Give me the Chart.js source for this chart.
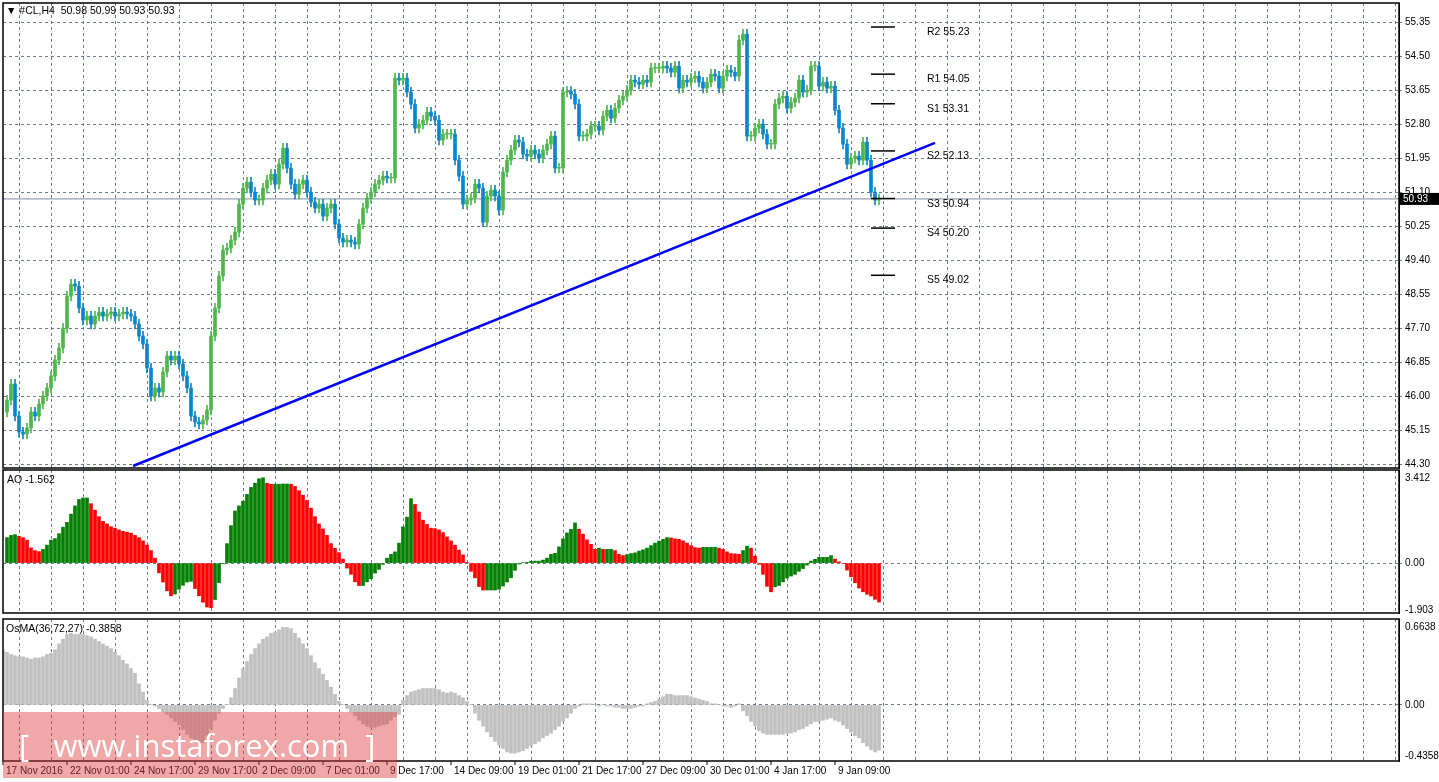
<!DOCTYPE html>
<html><head><meta charset="utf-8">
<script src="https://cdn.jsdelivr.net/npm/chart.js@4.4.1/dist/chart.umd.min.js"></script>
<style>
body{margin:0;background:#fff;width:1439px;height:782px;overflow:hidden;position:relative;font-family:"Liberation Sans",sans-serif}
canvas{position:absolute;left:0}
.t{position:absolute;font-size:10.5px;color:#000;white-space:pre}
#wm{position:absolute;left:3px;top:712px;width:394px;height:66px;background:rgba(220,60,60,0.45);color:#fff;font-size:31px;line-height:66px;white-space:pre;overflow:hidden;font-family:"Open Sans",sans-serif}
</style></head><body>
<div id="holder"></div>
<div class="t" style="left:6px;top:4px">▼ #CL,H4  50.98 50.99 50.93 50.93</div>
<div class="t" style="left:7px;top:473px">AO -1.562</div>
<div class="t" style="left:6px;top:622px">OsMA(36,72,27) -0.3858</div>
<div id="wm">  [   www.instaforex.com  ]</div>
<script>
const closes=[45.9,46.3,45.5,45.1,45.05,45.2,45.6,45.5,45.8,46.0,46.2,46.5,46.9,47.2,47.7,48.5,48.8,48.75,48.2,47.9,48.0,47.8,48.0,48.1,48.0,48.05,48.1,48.0,48.05,48.1,48.05,48.0,47.8,47.5,47.3,46.7,46.0,46.2,46.1,46.6,47.0,46.9,47.0,46.8,46.5,46.2,45.5,45.35,45.3,45.4,45.65,47.5,48.2,49.0,49.65,49.7,49.9,50.1,50.8,51.2,51.35,51.1,50.9,50.9,51.2,51.4,51.55,51.3,51.8,52.2,51.7,51.3,51.05,51.3,51.4,51.1,50.85,50.7,50.8,50.5,50.7,50.8,50.3,49.95,49.85,49.9,49.85,49.8,50.3,50.7,50.95,51.1,51.3,51.4,51.5,51.45,51.45,53.95,53.9,53.95,53.6,53.3,52.7,52.8,52.9,53.1,53.0,52.9,52.4,52.55,52.55,52.55,51.9,51.5,50.8,50.9,50.95,51.3,51.2,50.35,51.0,51.15,51.0,50.65,51.6,51.9,52.15,52.4,52.35,52.05,52.0,52.15,52.05,51.95,52.15,52.3,52.5,51.7,51.7,53.6,53.62,53.55,53.3,52.5,52.5,52.55,52.75,52.75,52.65,53.0,53.15,52.95,53.2,53.4,53.5,53.65,53.9,53.85,53.8,53.9,53.85,54.2,54.2,54.2,54.25,54.2,54.1,54.25,53.7,53.9,53.85,53.95,54.0,53.85,53.7,53.85,54.05,54.0,53.7,54.0,54.15,54.1,54.0,54.9,55.05,52.5,52.5,52.7,52.8,52.55,52.3,52.3,53.3,53.45,53.5,53.2,53.35,53.45,53.9,53.6,53.65,54.25,54.25,53.75,53.85,53.7,53.75,53.15,52.7,52.3,51.8,51.95,52.0,51.9,52.35,51.9,51.1,50.9,50.93];
const firstOpen=45.6;
const ao=[1.02,1.11,1.14,1.07,1.02,0.92,0.61,0.50,0.46,0.55,0.72,0.92,0.98,1.18,1.44,1.63,1.96,2.29,2.55,2.61,2.61,2.38,2.12,1.86,1.67,1.57,1.46,1.40,1.33,1.27,1.24,1.20,1.11,1.02,0.89,0.72,0.50,0.20,
-0.39,-0.76,-1.11,-1.31,-1.24,-1.05,-0.89,-0.76,-0.73,-1.02,-1.31,-1.57,-1.76,-1.79,-1.46,-0.78,-0.03,
0.78,1.50,2.09,2.29,2.48,2.75,3.03,3.20,3.38,3.42,3.20,3.16,3.16,3.16,3.17,3.17,3.16,3.07,2.90,2.72,2.51,2.20,1.86,1.57,1.37,1.11,0.78,0.59,0.42,0.16,
-0.2,-0.45,-0.75,-0.90,-0.90,-0.75,-0.63,-0.40,-0.25,-0.05,
0.2,0.35,0.45,0.8,1.45,1.84,2.58,2.35,2.05,1.72,1.55,1.40,1.38,
1.33,1.22,1.05,0.89,0.72,0.52,0.33,0.03,-0.33,-0.59,-0.94,-1.08,-1.08,-1.08,-1.08,-1.05,-0.92,-0.76,-0.59,-0.29,-0.04,0.02,0.03,0.07,0.08,0.08,0.12,0.2,0.35,0.39,0.65,0.97,1.21,1.35,1.61,1.36,1.16,0.93,0.75,0.55,0.6,0.55,0.55,0.55,0.5,0.35,0.3,0.34,0.38,0.41,0.48,0.53,0.60,0.70,0.80,0.88,0.95,1.02,1.01,0.97,0.95,0.89,0.80,0.70,0.62,0.60,0.63,0.63,0.63,0.63,0.60,0.55,0.45,0.38,0.37,0.35,0.50,0.68,0.60,0.28,-0.05,-0.45,-0.93,-1.15,-0.95,-0.90,-0.75,-0.60,-0.52,-0.45,-0.33,-0.22,-0.08,0.08,0.15,0.23,0.23,0.23,0.30,0.16,0.05,-0.02,-0.28,-0.55,-0.79,-1.0,-1.15,-1.25,-1.32,-1.45,-1.562];
const osma=[0.44,0.48,0.47,0.45,0.43,0.42,0.41,0.41,0.40,0.39,0.40,0.40,0.41,0.43,0.44,0.47,0.52,0.56,0.60,0.61,0.60,0.60,0.60,0.59,0.58,0.56,0.54,0.52,0.50,0.48,0.45,0.42,0.38,0.35,0.31,0.27,0.18,0.11,0.04,0.005,
-0.01,-0.03,-0.06,-0.08,-0.11,-0.14,-0.17,-0.21,-0.25,-0.28,-0.31,-0.33,-0.32,-0.26,-0.20,-0.13,-0.07,-0.03,
0.005,0.06,0.14,0.23,0.31,0.37,0.43,0.48,0.52,0.56,0.58,0.61,0.62,0.64,0.66,0.66,0.65,0.61,0.57,0.52,0.48,0.42,0.36,0.31,0.26,0.21,0.15,0.09,0.03,0.005,
-0.03,-0.06,-0.09,-0.13,-0.16,-0.18,-0.19,-0.19,-0.18,-0.17,-0.16,-0.13,-0.10,-0.08,
0.04,0.08,0.11,0.12,0.13,0.14,0.14,0.14,0.14,0.13,0.11,0.10,0.11,0.10,0.08,0.06,0.03,0.005,
-0.07,-0.13,-0.18,-0.23,-0.27,-0.31,-0.34,-0.37,-0.40,-0.41,-0.41,-0.40,-0.39,-0.37,-0.35,-0.33,-0.31,-0.28,-0.26,-0.24,-0.21,-0.18,-0.14,-0.11,-0.07,-0.03,-0.01,
0.01,0.01,0.01,0.005,-0.01,0.005,-0.01,-0.01,-0.02,-0.02,-0.03,-0.03,-0.03,-0.02,-0.01,-0.01,0.01,0.02,0.03,0.05,0.07,0.09,0.09,0.08,0.08,0.08,0.08,0.07,0.06,0.05,0.04,0.03,0.01,0.01,0.005,-0.01,-0.01,-0.02,-0.01,0.01,
-0.05,-0.09,-0.14,-0.18,-0.22,-0.24,-0.25,-0.25,-0.25,-0.25,-0.25,-0.24,-0.24,-0.23,-0.21,-0.20,-0.18,-0.16,-0.14,-0.14,-0.13,-0.12,-0.11,-0.13,-0.14,-0.17,-0.20,-0.23,-0.26,-0.28,-0.32,-0.35,-0.38,-0.40,-0.3858];
const priceTicks=[55.35,54.50,53.65,52.80,51.95,51.10,50.25,49.40,48.55,47.70,46.85,46.00,45.15,44.30];
const aoTicks=[3.412,0,-1.903];
const osmaTicks=[0.6638,0,-0.4358];
const dateLabels=["17 Nov 2016","22 Nov 01:00","24 Nov 17:00","29 Nov 17:00","2 Dec 09:00","7 Dec 01:00","9 Dec 17:00","14 Dec 09:00","19 Dec 01:00","21 Dec 17:00","27 Dec 09:00","30 Dec 01:00","4 Jan 17:00","9 Jan 09:00"];
const levelNames=["R2","R1","S1","S2","S3","S4","S5"];
const levelValues=[55.23,54.05,53.31,52.13,50.94,50.20,49.02];
const trendX=[31.5,232];
const trendY=[44.25,52.33];
const lastPrice=50.93;

const SLOTS=349, WICK=0.12, BULL='#4cb848', BEAR='#0a86c8', GRID='#6e7b8b';
const n=closes.length;
const opens=closes.map((c,i)=>i?closes[i-1]:firstOpen);
function build(c,id,xh,ymin,ymax,ticks,gridAll,datasets,extra){
  return new Chart(c,{type:'bar',data:{datasets},options:{responsive:false,animation:false,devicePixelRatio:1,
    layout:{padding:{left:3,top:0,right:0,bottom:0}},
    plugins:{legend:{display:false},tooltip:{enabled:false}},
    scales:{x:{type:'linear',offset:false,min:-1,max:SLOTS-1,afterBuildTicks:s=>{const t=[];for(let v=7;v<SLOTS;v+=8)t.push({value:v});s.ticks=t;},
        ticks:{display:false},grid:{color:GRID,drawTicks:false},border:{display:false,dash:[3,3]},afterFit:s=>{s.height=xh;}},
      y:{position:'right',min:ymin,max:ymax,afterBuildTicks:s=>{s.ticks=ticks.map(v=>({value:v}));},
        afterFit:s=>{s.width=40;},
        ticks:{color:'#000',font:{family:'Liberation Sans',size:10},padding:3,autoSkip:false,callback:v=>id==='c1'?v.toFixed(2):(v===0?'0.00':String(v))},
        grid:{color:ctx=>(gridAll||ctx.tick&&ctx.tick.value===0)?GRID:'rgba(0,0,0,0)',drawTicks:true,tickLength:3},
        border:{display:true,color:'#000',dash:[3,3]}}},
    datasets:{bar:{grouped:false}}},
    plugins:[{id:'frame',afterDraw(ch){const a=ch.chartArea,x=ch.ctx;x.save();x.strokeStyle='#000';x.lineWidth=1.5;x.strokeRect(a.left,a.top,a.right-a.left,a.bottom-a.top);x.restore();if(extra)extra(ch);}}]});
}
function mk(id,top,bottom,xh,...rest){
  let h=bottom-top+xh+6, ch=null, c=null;
  for(let k=0;k<4;k++){
    if(ch){ch.destroy();c.remove();}
    c=document.createElement('canvas');c.id=id;c.width=1439;c.height=h;
    document.getElementById('holder').appendChild(c);
    ch=build(c,id,xh,...rest);
    const a=ch.chartArea, d=(bottom-top)-(a.bottom-a.top);
    if(Math.abs(d)<0.5)break;
    h=Math.round(h+d);
  }
  c.style.top=(top-ch.chartArea.top)+'px';
  return ch;
}
const wick=closes.map((c,i)=>({x:i,y:[Math.min(c,opens[i])-WICK,Math.max(c,opens[i])+WICK]}));
const body=closes.map((c,i)=>({x:i,y:[opens[i],c===opens[i]?c+0.02:c]}));
const cols=closes.map((c,i)=>c>=opens[i]?BULL:BEAR);
const levelSets=levelValues.map(v=>({type:'line',data:[{x:216,y:v},{x:222,y:v}],borderColor:'#000',borderWidth:1.5,pointRadius:0}));
mk('c1',3,468,2,44.2,55.83,priceTicks,true,[
  {type:'line',data:[{x:-1,y:lastPrice},{x:SLOTS-1,y:lastPrice}],borderColor:'#7a8a9a',borderWidth:1,pointRadius:0,order:5},
  {data:wick,backgroundColor:cols,barThickness:1,order:3},
  {data:body,backgroundColor:cols,barThickness:3,order:2},
  {type:'line',data:trendX.map((x,i)=>({x,y:trendY[i]})),borderColor:'#0000ff',borderWidth:2.5,pointRadius:0,order:1},
  ...levelSets],
  ch=>{const x=ch.ctx,sx=ch.scales.x,sy=ch.scales.y;x.save();x.font='10.5px "Liberation Sans"';x.fillStyle='#000';x.textBaseline='top';
    levelValues.forEach((v,i)=>x.fillText(levelNames[i]+' '+v.toFixed(2),sx.getPixelForValue(230),sy.getPixelForValue(v)));
    const py=sy.getPixelForValue(lastPrice);x.fillStyle='#000';x.fillRect(1400,py-6,39,12);x.fillStyle='#fff';x.textBaseline='middle';x.font='10px "Liberation Sans"';x.fillText(lastPrice.toFixed(2),1403,py);x.restore();});
const aoOff=n-ao.length;
mk('c2',470,613,2,-2.0,3.73,aoTicks,false,[{data:ao.map((v,i)=>({x:i+aoOff,y:v})),backgroundColor:ao.map((v,i)=>i&&v<ao[i-1]?'#ff0000':'#008000'),barThickness:3}]);
const osOff=n-osma.length;
mk('c3',619,761,21,-0.477,0.732,osmaTicks,false,[{data:osma.map((v,i)=>({x:i+osOff,y:v})),backgroundColor:'#c0c0c0',barThickness:3}],
  ch=>{const x=ch.ctx,sx=ch.scales.x,b=ch.chartArea.bottom;x.save();x.font='10px "Liberation Sans"';x.fillStyle='#000';x.strokeStyle='#000';x.textBaseline='top';
    dateLabels.forEach((l,i)=>{const p=sx.getPixelForValue(-1+16*i);x.beginPath();x.moveTo(p,b);x.lineTo(p,b+4);x.stroke();x.fillText(l,p+3,b+5);});x.restore();});
</script></body></html>
